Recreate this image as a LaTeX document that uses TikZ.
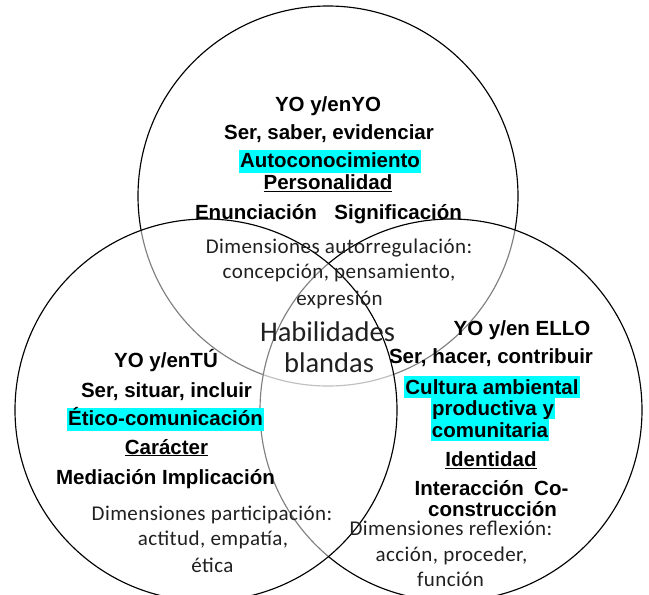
\documentclass[tikz,border=0pt]{standalone}
\usepackage{fontspec}
\setmainfont{Liberation Sans}
\newfontfamily\calibri{Carlito}
\newfontfamily\calibriwide[LetterSpace=2]{Carlito}
\usepackage{xcolor}
\definecolor{hilite}{RGB}{0,255,255}
\definecolor{softblack}{RGB}{32,32,32}
\tikzset{
  ring/.style={draw=black, line width=1.15pt, fill=white, fill opacity=0.5},
  head/.style={font=\fontsize{20.5}{24}\selectfont\bfseries, inner sep=0pt, anchor=base},
  hl/.style={head, fill=hilite, inner xsep=1pt, text height=17pt, text depth=6pt},
  hlline/.style={head, fill=hilite, inner xsep=1pt, text height=18pt, text depth=4pt},
  dimtext/.style={font=\calibriwide\fontsize{21}{25}\selectfont, text=softblack, inner sep=0pt, anchor=base},
  habil/.style={font=\calibri\fontsize{28.5}{32}\selectfont, text=softblack, inner sep=0pt, anchor=base}
}
\begin{document}
\begin{tikzpicture}[x=1pt, y=-1pt]
    \useasboundingbox (0,0) rectangle (649,595);
    \draw[ring] (328,196) circle (190pt);
    \draw[ring] (451,410) circle (191pt);
    \draw[ring] (206,410) circle (191pt);

    \node[head] (yoyo) at (328,111) {YO y/enYO};
    \node[head] (yoyoverbs) at (329,139.5) {Ser, saber, evidenciar};
    \node[hl] (yoyohl) at (330,167) {Autoconocimiento};
    \node[head] (yoyokey) at (328,189.5) {\underline{Personalidad}};
    \node[head] (yoyopair) at (328.5,219) {Enunciación\hspace{0.85em}Significación};
    \node[dimtext] (yoyodima) at (339,253.5) {Dimensiones autorregulación:};
    \node[dimtext] (yoyodimb) at (339,278.5) {concepción, pensamiento,};
    \node[dimtext] (yoyodimc) at (339.5,305) {expresión};

    \node[habil] (habila) at (327.5,341) {Habilidades};
    \node[habil] (habilb) at (329,372) {blandas};

    \node[head] (yotu) at (166,367.5) {YO y/enTÚ};
    \node[head] (yotuverbs) at (166.5,397) {Ser, situar, incluir};
    \node[hl] (yotuhl) at (165.5,425) {Ético-comunicación};
    \node[head] (yotukey) at (166.5,454) {\underline{Carácter}};
    \node[head] (yotupair) at (165.5,484) {Mediación Implicación};
    \node[dimtext] (yotudima) at (212,520) {Dimensiones participación:};
    \node[dimtext] (yotudimb) at (213,545.5) {actitud, empatía,};
    \node[dimtext] (yotudimc) at (212.5,572) {ética};

    \node[head] (yoello) at (522,335) {YO y/en ELLO};
    \node[head] (yoelloverbs) at (491,363.5) {Ser, hacer, contribuir};
    \node[hlline] (yoellohla) at (492,394) {Cultura ambiental};
    \node[hlline] (yoellohlb) at (493,415) {productiva y};
    \node[hlline] (yoellohlc) at (490,437) {comunitaria};
    \node[head] (yoellokey) at (491,466.5) {\underline{Identidad}};
    \node[head] (yoellopaira) at (491.5,495) {Interacción\hspace{0.5em}Co-};
    \node[head] (yoellopairb) at (492.5,516) {construcción};
    \node[dimtext] (yoellodima) at (451,535) {Dimensiones reflexión:};
    \node[dimtext] (yoellodimb) at (451.5,561.5) {acción, proceder,};
    \node[dimtext] (yoellodimc) at (450.5,586) {función};
\end{tikzpicture}
\end{document}
